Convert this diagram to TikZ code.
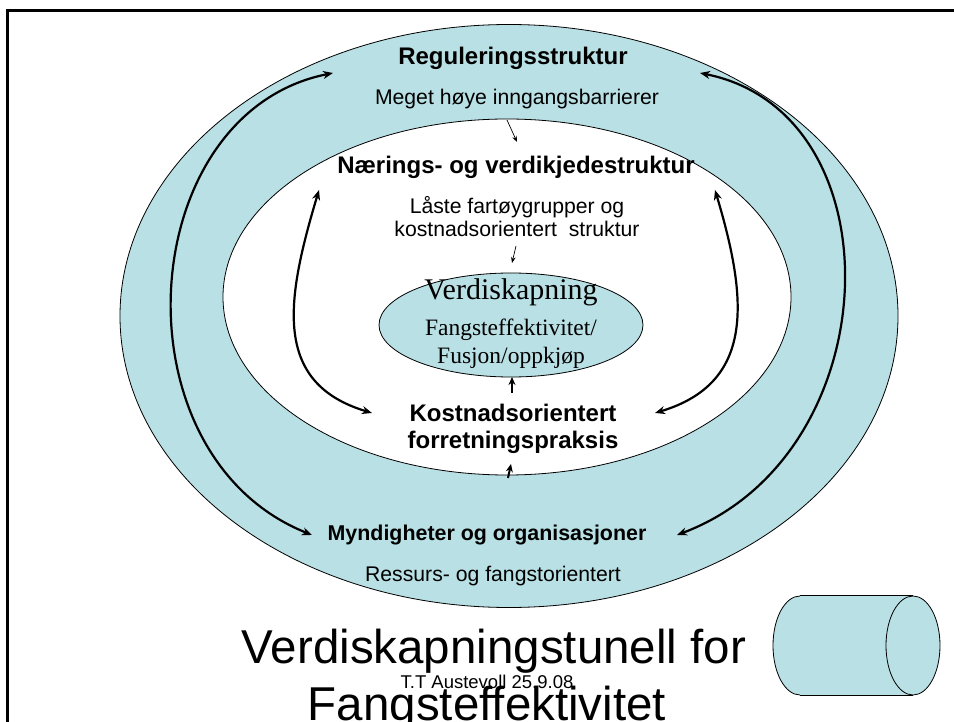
\documentclass[tikz,border=0pt]{standalone}
\usepackage{fontspec}
\setmainfont{Liberation Sans}
\newfontfamily\timesfont{Liberation Serif}
\usepackage{tikz}
\usetikzlibrary{shapes.geometric, arrows.meta, positioning, calc}
\definecolor{tunnelblue}{RGB}{185,224,228}

\begin{document}
\begin{tikzpicture}[
        x=1pt, y=-1pt,
        ring/.style={ellipse, draw, line width=0.8pt, inner sep=0pt},
        head/.style={anchor=base, inner sep=0pt, font=\bfseries\fontsize{24}{28}\selectfont},
        sub/.style={anchor=base, inner sep=0pt, font=\fontsize{21.2}{25}\selectfont},
        coretext/.style={anchor=base, inner sep=0pt, font=\timesfont\fontsize{23.5}{28}\selectfont},
        loop/.style={{Stealth[length=10pt,width=8pt]}-{Stealth[length=10pt,width=8pt]}, line width=2.2pt},
        hint/.style={-{Stealth[length=6pt,width=4.5pt]}, line width=0.7pt},
        push/.style={-{Stealth[length=8pt,width=7pt]}, line width=2pt}
    ]
        \useasboundingbox (0,0) rectangle (954,722);
        \clip (0,0) rectangle (954,722);
        \draw[line width=3pt] (7.3,10.7) rectangle (990,760);

        \node[ring, fill=tunnelblue, minimum width=778, minimum height=583] (outer) at (509,316) {};
        \node[ring, fill=white, minimum width=568, minimum height=356] (inner) at (507,297) {};
        \node[ring, fill=tunnelblue, minimum width=264, minimum height=104] (core) at (511,325) {};

        \node[head] (regtitle) at (513,65) {Reguleringsstruktur};
        \node[sub] (regtext) at (517,105) {Meget høye inngangsbarrierer};
        \node[head] (naertitle) at (516,174) {Nærings- og verdikjedestruktur};
        \node[sub] (naertext) at (517,214) {Låste fartøygrupper og};
        \node[sub] (naertext2) at ([yshift=-23pt]naertext.base) {kostnadsorientert\ \ struktur};
        \node[coretext, font=\timesfont\fontsize{30}{34}\selectfont] (corehead) at (511,300) {Verdiskapning};
        \node[coretext] (coreline) at (511,335) {Fangsteffektivitet/};
        \node[coretext] (coreline2) at (511,363.5) {Fusjon/oppkjøp};
        \node[head] (kosttitle) at (513,421) {Kostnadsorientert};
        \node[head] (kosttitle2) at ([yshift=-27.5pt]kosttitle.base) {forretningspraksis};
        \node[head, font=\bfseries\fontsize{21.4}{25}\selectfont] (myndtitle) at (487,540.5) {Myndigheter og organisasjoner};
        \node[sub] (myndtext) at (493,581) {Ressurs- og fangstorientert};

        \coordinate (regleft) at (333,73);
        \coordinate (myndleft) at (312,535);
        \coordinate (regright) at (700,73);
        \coordinate (myndright) at (677,535);
        \coordinate (naerleft) at (319,190);
        \coordinate (kostleft) at (372,413);
        \coordinate (naerright) at (715,190);
        \coordinate (kostright) at (655,413);
        \coordinate (barrierfrom) at (507,120);
        \coordinate (barrierto) at (517,142);
        \coordinate (lockedfrom) at (516,246);
        \coordinate (lockedto) at (512,263);
        \coordinate (practicefrom) at (512,393);
        \coordinate (practiceto) at (512,377);
        \coordinate (authorityfrom) at (508,478);
        \coordinate (authorityto) at (511,464);

        \draw[loop] (regleft) .. controls (133,113) and (112,455) .. (myndleft);
        \draw[loop] (regright) .. controls (900,113) and (890,455) .. (myndright);
        \draw[loop] (naerleft) .. controls (286,300) and (272,383) .. (kostleft);
        \draw[loop] (naerright) .. controls (748,300) and (755,383) .. (kostright);
        \draw[hint] (barrierfrom) -- (barrierto);
        \draw[hint] (lockedfrom) -- (lockedto);
        \draw[push] (practicefrom) -- (practiceto);
        \draw[push] (authorityfrom) -- (authorityto);

        \node[ellipse, draw, line width=0.8pt, fill=tunnelblue, minimum width=54, minimum height=99] (tubeback) at (800,645.5) {};
        \fill[tunnelblue] (tubeback.north) rectangle (913,695);
        \node[ellipse, draw, line width=0.8pt, fill=tunnelblue, minimum width=54, minimum height=99] (tubefront) at (913,645.5) {};
        \draw[line width=0.8pt] (tubeback.north) -- (tubefront.north) (tubeback.south) -- (tubefront.south);

        \node[anchor=base, inner sep=0pt, font=\fontsize{47.5}{56}\selectfont] (title) at (494,663) {Verdiskapningstunell for};
        \node[anchor=base, inner sep=0pt, font=\fontsize{47.5}{56}\selectfont] (title2) at (487,720) {Fangsteffektivitet};
        \node[anchor=base, inner sep=0pt, font=\fontsize{18.5}{22}\selectfont] (credit) at (487,688) {T.T Austevoll 25.9.08};
    \end{tikzpicture}
\end{document}
